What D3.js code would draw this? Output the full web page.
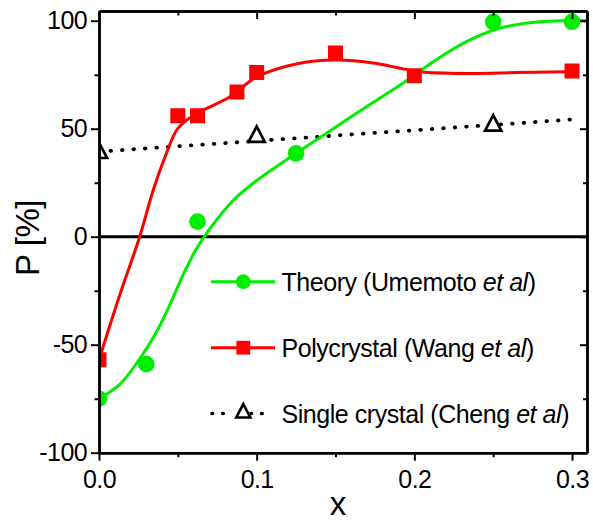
<!DOCTYPE html>
<html>
<head>
<meta charset="utf-8">
<script src="https://cdn.jsdelivr.net/npm/d3@7"></script>
<style>
  html, body { margin: 0; padding: 0; background: #fff; }
  svg { display: block; font-family: "Liberation Sans", Arial, sans-serif; }
</style>
</head>
<body>
<svg id="chart" width="593" height="523"></svg>
<script>
// ---------- data ----------
const xMajorTicks = [0, 0.1, 0.2, 0.3];
const xMinorTicks = [0.05, 0.15, 0.25];
const yMajorTicks = [-100, -50, 0, 50, 100];
const yMinorTicks = [-75, -25, 25, 75];

// Theory (Umemoto et al) – points
const theoryX = [0, 0.03, 0.0625, 0.125, 0.25, 0.3];
const theoryY = [-75, -59, 7, 38.6, 99.5, 99.5];
// Theory – smooth fit curve
const theoryFitX = [0, 0.013, 0.0254, 0.036, 0.0444, 0.0528, 0.0613, 0.0697, 0.0852, 0.1, 0.125, 0.15, 0.175, 0.191, 0.212, 0.233, 0.254, 0.275, 0.297, 0.312];
const theoryFitY = [-75, -68.5, -57, -44.7, -32.4, -18.5, -6.2, 3.1, 16.9, 26, 38.6, 50.7, 62.7, 70.2, 81, 90.3, 96.5, 99.2, 100, 100];

// Polycrystal (Wang et al) – points
const polyX = [0, 0.05, 0.0625, 0.0875, 0.1, 0.15, 0.2, 0.3];
const polyY = [-57, 56, 56, 67, 76, 85, 74.5, 76.7];
// Polycrystal – smooth fit curve
const polyFitX = [0, 0.0127, 0.0258, 0.0344, 0.0419, 0.0493, 0.0556, 0.0625, 0.0831, 0.1, 0.125, 0.15, 0.175, 0.191, 0.2035, 0.233, 0.265, 0.2966, 0.3];
const polyFitY = [-57, -28, 0, 21.6, 37, 49.4, 54, 57.3, 64.8, 74, 80, 81.8, 80.3, 78, 76.4, 75.6, 76, 76.4, 76.5];

// Single crystal (Cheng et al) – points
const singleX = [0, 0.1, 0.25];
const singleY = [40, 47.5, 52.7];
// Single crystal – linear fit line end points
const singleFitX = [0, 0.305];
const singleFitY = [39.4, 54.5];

const legendLabels = [
  ["Theory (Umemoto ", "et al", ")"],
  ["Polycrystal (Wang ", "et al", ")"],
  ["Single crystal (Cheng ", "et al", ")"]
];

// ---------- layout ----------
const svg = d3.select("#chart");
const L = 99, R = 587, T = 11, B = 452.7;
const x = d3.scaleLinear().domain([0, 0.3095]).range([L, R]);
const y = d3.scaleLinear().domain([-100, 104.5]).range([B, T]);

const green = "#00ee00", red = "#ff0000";

// open triangle centred on its bounding box
const triType = {
  draw(ctx, size) {
    const w = Math.sqrt(size), h = w * 0.95;
    ctx.moveTo(0, -h / 2);
    ctx.lineTo(w / 2, h / 2);
    ctx.lineTo(-w / 2, h / 2);
    ctx.closePath();
  }
};

svg.append("defs").append("clipPath").attr("id", "plot")
  .append("rect").attr("x", L).attr("y", T).attr("width", R - L).attr("height", B - T);

const plot = svg.append("g").attr("clip-path", "url(#plot)");

// zero line
plot.append("line")
  .attr("x1", L).attr("x2", R).attr("y1", y(0)).attr("y2", y(0))
  .attr("stroke", "#000").attr("stroke-width", 3);

const zip = (a, b) => a.map((v, i) => [v, b[i]]);
const line = d3.line().x(d => x(d[0])).y(d => y(d[1])).curve(d3.curveCatmullRom.alpha(0.5));

// single crystal dotted line
plot.append("path")
  .datum(zip(singleFitX, singleFitY))
  .attr("d", d3.line().x(d => x(d[0])).y(d => y(d[1])))
  .attr("fill", "none").attr("stroke", "#000")
  .attr("stroke-width", 3.8).attr("stroke-linecap", "round")
  .attr("stroke-dasharray", "0.6 10.9");

// polycrystal curve
plot.append("path")
  .datum(zip(polyFitX, polyFitY))
  .attr("d", line)
  .attr("fill", "none").attr("stroke", red).attr("stroke-width", 3);

// theory curve
plot.append("path")
  .datum(zip(theoryFitX, theoryFitY))
  .attr("d", line)
  .attr("fill", "none").attr("stroke", green).attr("stroke-width", 3);

// markers
plot.selectAll(".sq").data(zip(polyX, polyY)).enter().append("path")
  .attr("transform", d => `translate(${x(d[0])},${y(d[1])})`)
  .attr("d", d3.symbol().type(d3.symbolSquare).size(225)())
  .attr("fill", red);

plot.selectAll(".ci").data(zip(theoryX, theoryY)).enter().append("path")
  .attr("transform", d => `translate(${x(d[0])},${y(d[1])})`)
  .attr("d", d3.symbol().type(d3.symbolCircle).size(217)())
  .attr("fill", green);

plot.selectAll(".tr").data(zip(singleX, singleY)).enter().append("path")
  .attr("transform", d => `translate(${x(d[0])},${y(d[1])})`)
  .attr("d", d3.symbol().type(triType).size(262)())
  .attr("fill", "#fff").attr("stroke", "#000").attr("stroke-width", 2.7)
  .attr("stroke-linejoin", "miter");

// ---------- axes ----------
function styleAxis(g) {
  g.select(".domain").attr("stroke", "#000").attr("stroke-width", 2.5);
  g.selectAll(".tick line").attr("stroke", "#000").attr("stroke-width", 2);
  g.selectAll(".tick text").attr("fill", "#000")
    .style("font-size", "25px").style("letter-spacing", "-0.6px")
    .style("font-family", '"Liberation Sans", Arial, sans-serif');
}

const fmtY = d => d === 0 ? "0" : (d < 0 ? "-" + Math.abs(d) : String(d));

// bottom
svg.append("g").attr("transform", `translate(0,${B})`)
  .call(d3.axisBottom(x).tickValues(xMinorTicks).tickSize(4.5).tickSizeOuter(0).tickFormat(""))
  .call(styleAxis);
svg.append("g").attr("transform", `translate(0,${B})`)
  .call(d3.axisBottom(x).tickValues(xMajorTicks).tickSize(8).tickSizeOuter(0).tickPadding(9.5).tickFormat(d3.format(".1f")))
  .call(styleAxis);
// top
svg.append("g").attr("transform", `translate(0,${T})`)
  .call(d3.axisTop(x).tickValues(xMinorTicks).tickSize(-4.5).tickSizeOuter(0).tickFormat(""))
  .call(styleAxis);
svg.append("g").attr("transform", `translate(0,${T})`)
  .call(d3.axisTop(x).tickValues(xMajorTicks).tickSize(-8).tickSizeOuter(0).tickFormat(""))
  .call(styleAxis);
// left
svg.append("g").attr("transform", `translate(${L},0)`)
  .call(d3.axisLeft(y).tickValues(yMinorTicks).tickSize(4.5).tickSizeOuter(0).tickFormat(""))
  .call(styleAxis);
svg.append("g").attr("transform", `translate(${L},0)`)
  .call(d3.axisLeft(y).tickValues(yMajorTicks).tickSize(8).tickSizeOuter(0).tickPadding(4).tickFormat(fmtY))
  .call(styleAxis);
// right
svg.append("g").attr("transform", `translate(${R},0)`)
  .call(d3.axisRight(y).tickValues(yMinorTicks).tickSize(-4).tickSizeOuter(0).tickFormat(""))
  .call(styleAxis);
svg.append("g").attr("transform", `translate(${R},0)`)
  .call(d3.axisRight(y).tickValues(yMajorTicks).tickSize(-7).tickSizeOuter(0).tickFormat(""))
  .call(styleAxis);

// axis titles
svg.append("text")
  .attr("transform", `translate(38.5,238) rotate(-90)`)
  .attr("text-anchor", "middle")
  .style("font-size", "33px").style("letter-spacing", "-0.5px")
  .text("P [%]");
svg.append("text")
  .attr("x", 338).attr("y", 515)
  .attr("text-anchor", "middle")
  .style("font-size", "33px")
  .text("x");

// ---------- legend ----------
const legY = [281.7, 347.7, 413.5];
const lx1 = 211, lx2 = 275, lsx = 243.3, ltx = 281.5;
const lg = svg.append("g");

// theory
lg.append("line").attr("x1", lx1).attr("x2", lx2).attr("y1", legY[0]).attr("y2", legY[0])
  .attr("stroke", green).attr("stroke-width", 3);
lg.append("path").attr("transform", `translate(${lsx},${legY[0]})`)
  .attr("d", d3.symbol().type(d3.symbolCircle).size(170)()).attr("fill", green);
// poly
lg.append("line").attr("x1", lx1).attr("x2", lx2).attr("y1", legY[1]).attr("y2", legY[1])
  .attr("stroke", red).attr("stroke-width", 3);
lg.append("path").attr("transform", `translate(${lsx},${legY[1]})`)
  .attr("d", d3.symbol().type(d3.symbolSquare).size(190)()).attr("fill", red);
// single
lg.append("line").attr("x1", lx1 + 1).attr("x2", lx2).attr("y1", legY[2]).attr("y2", legY[2])
  .attr("stroke", "#000").attr("stroke-width", 3.6).attr("stroke-linecap", "round")
  .attr("stroke-dasharray", "0.6 10.1 0.6 27.6");
lg.append("path").attr("transform", `translate(${lsx},${legY[2] - 2.7})`)
  .attr("d", d3.symbol().type(triType).size(200)())
  .attr("fill", "#fff").attr("stroke", "#000").attr("stroke-width", 2.6);

legendLabels.forEach((parts, i) => {
  const t = lg.append("text").attr("x", ltx).attr("y", legY[i] + 9.3)
    .style("font-size", "25px").style("letter-spacing", "-0.45px");
  t.append("tspan").text(parts[0]);
  t.append("tspan").style("font-style", "italic").text(parts[1]);
  t.append("tspan").text(parts[2]);
});
</script>
</body>
</html>
